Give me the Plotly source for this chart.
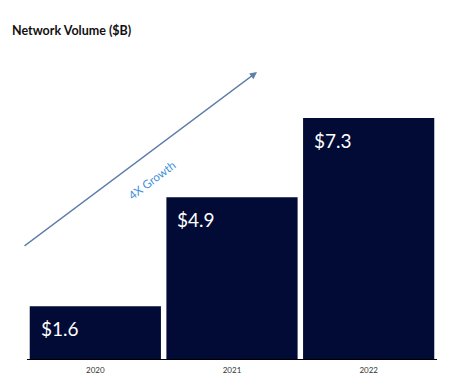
import plotly.graph_objects as go

years = ["2020", "2021", "2022"]
volumes = [1.6, 4.9, 7.3]
labels = ["$1.6", "$4.9", "$7.3"]

# page body has an 8px margin, so the figure is sized/placed accordingly
OFF = 8
W, H = 450 - OFF, 387 - OFF
ml, mr, mb, mt = 27 - OFF, 13, 28, 40 - OFF
pw, ph = W - ml - mr, H - mb - mt
ymax = ph / 33.0


def px(x):
    return (x - OFF - ml) / pw


def py(y):
    return (H - mb - (y - OFF)) / ph


fig = go.Figure()
fig.add_trace(go.Bar(x=years, y=volumes, marker=dict(color="#010B35", line=dict(width=0)),
                     hoverinfo="skip"))

bar_frac = 0.96
for i, (v, lab) in enumerate(zip(volumes, labels)):
    fig.add_annotation(x=i - bar_frac / 2, y=v, xref="x", yref="y", text=lab, showarrow=False,
                       xanchor="left", yanchor="top", xshift=9, yshift=-9,
                       font=dict(family="Lato", size=19, color="white"))

# growth arrow
fig.add_annotation(x=px(257), y=py(72), xref="paper", yref="paper", ax=-234, ay=175,
                   axref="pixel", ayref="pixel", showarrow=True, arrowhead=2,
                   arrowsize=1.1, arrowwidth=1.3, arrowcolor="#5F7FA8", text="")
fig.add_annotation(x=px(151), y=py(180), xref="paper", yref="paper", text="4X Growth",
                   showarrow=False, xanchor="center", yanchor="middle",
                   textangle=-37, font=dict(family="Lato", size=11.5, color="#3B8EDB"))

fig.update_layout(
    width=W, height=H,
    margin=dict(l=ml, r=mr, t=mt, b=mb, pad=0, autoexpand=False),
    paper_bgcolor="white", plot_bgcolor="white",
    bargap=1 - bar_frac,
    showlegend=False,
    title=dict(text="<b>Network Volume ($B)</b>", x=(12 - OFF) / W, xanchor="left",
               y=1 - (31 - OFF) / H, yanchor="middle",
               font=dict(family="Lato", size=12.5, color="#111111")),
    xaxis=dict(type="category", range=[-0.5, 2.5], showline=True, linecolor="#000000",
               linewidth=1, ticks="", ticklabelstandoff=3,
               tickfont=dict(family="Lato", size=8, color="#333333"),
               showgrid=False, fixedrange=True),
    yaxis=dict(visible=False, range=[0, ymax], showgrid=False, fixedrange=True),
)

fig.write_html("out.html")
